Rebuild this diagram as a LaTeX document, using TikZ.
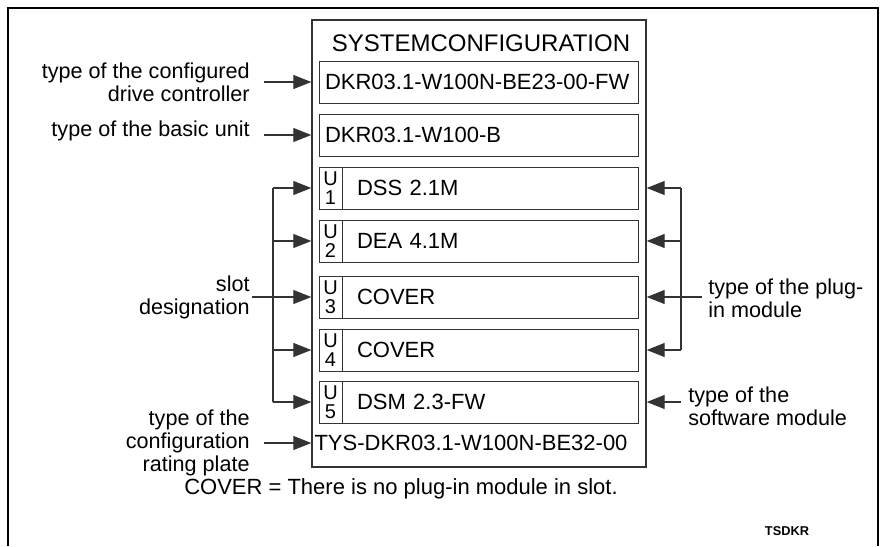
\documentclass[tikz,border=0pt]{standalone}
\usepackage{fontspec}
\setmainfont{Liberation Sans}
\usetikzlibrary{arrows.meta,positioning}
\definecolor{linegray}{HTML}{333333}

\begin{document}
\begin{tikzpicture}[x=0.5pt, y=-0.5pt,
    every node/.style={font=\fontsize{11}{11.5}\selectfont},
    sysbox/.style={rectangle, draw=linegray, line width=0.7pt,
        minimum width=167pt, minimum height=223.5pt},
    modbox/.style={rectangle, draw=linegray, line width=0.5pt, minimum height=21pt,
        inner xsep=3pt, text width=153.5pt, align=left},
    slotbox/.style={modbox, inner xsep=19pt, text width=121.5pt},
    slotno/.style={rectangle, draw=linegray, line width=0.5pt, minimum width=11.5pt,
        minimum height=21pt, inner sep=0pt, align=center, font=\fontsize{10}{9.5}\selectfont},
    lbl/.style={inner sep=0pt, align=right, anchor=east, font=\fontsize{10.8}{11.5}\selectfont},
    rlbl/.style={inner sep=0pt, align=left, anchor=west, font=\fontsize{10.8}{11.5}\selectfont},
    arr/.style={draw=linegray, line width=0.6pt, -{Triangle[length=9pt,width=7pt]}},
    conn/.style={draw=linegray, line width=0.6pt},
]
\useasboundingbox (0,0) rectangle (883,546);

% Frame
\draw[line width=1.3pt] (8,546) -- (8,8) -- (878,8) -- (878,546);

% System configuration box
\node[sysbox] (sys) at (479,243.5) {};
\node[font=\fontsize{12}{14}\selectfont] (title) at (481,43) {SYSTEMCONFIGURATION};

\node[modbox] (cfg) at (478.5,82) {DKR03.1-W100N-BE23-00-FW};
\node[modbox] (basic) at (478.5,135) {DKR03.1-W100-B};

% Slots
\node[slotbox] (u1) at (478.5,188) {DSS 2.1M};
\node[slotbox] (u2) at (478.5,241) {DEA 4.1M};
\node[slotbox] (u3) at (478.5,297) {COVER};
\node[slotbox] (u4) at (478.5,350) {COVER};
\node[slotbox] (u5) at (478.5,402) {DSM 2.3-FW};

\node[slotno, anchor=west] (n1) at (u1.west) {U\\1};
\node[slotno, anchor=west] (n2) at (u2.west) {U\\2};
\node[slotno, anchor=west] (n3) at (u3.west) {U\\3};
\node[slotno, anchor=west] (n4) at (u4.west) {U\\4};
\node[slotno, anchor=west] (n5) at (u5.west) {U\\5};

\node (plate) at (471,443) {TYS-DKR03.1-W100N-BE32-00};

% Labels
\node[lbl] (cfglbl) at (250,82) {type of the configured\\drive controller};
\node[lbl] (basiclbl) at (250,131) {type of the basic unit};
\node[lbl] (slotlbl) at (250,297) {slot\\designation};
\node[lbl] (platelbl) at (250,443) {type of the\\configuration\\rating plate};
\node[rlbl] (pluglbl) at (708,298) {type of the plug-\\in module};
\node[rlbl] (swlbl) at (688,406) {type of the\\software module};

% Connector ends
\coordinate (lstart) at (264,0);
\coordinate (lbrack) at (273,0);
\coordinate (slotstart) at (252,0);
\coordinate (rbrack) at (681,0);
\coordinate (plugstart) at (702,0);

% Left arrows
\draw[arr] (lstart |- cfg) -- (sys.west |- cfg);
\draw[arr] (lstart |- basic) -- (sys.west |- basic);
\draw[arr] (lstart |- plate) -- (sys.west |- plate);

\draw[conn] (lbrack |- u1) -- (lbrack |- u5);
\foreach \s in {u1,u2,u4,u5}
    \draw[arr] (lbrack |- \s) -- (sys.west |- \s);
\draw[arr] (slotstart |- u3) -- (sys.west |- u3);

% Right arrows
\draw[conn] (rbrack |- u1) -- (rbrack |- u4);
\foreach \s in {u1,u2,u3,u4}
    \draw[arr] (rbrack |- \s) -- (sys.east |- \s);
\draw[conn] (rbrack |- u3) -- (plugstart |- u3);
\draw[arr] (rbrack |- u5) -- (sys.east |- u5);

% Notes
\node (note) at (401,489) {COVER = There is no plug-in module in slot.};
\node[font=\fontsize{6.4}{8}\selectfont\bfseries] (tag) at (787,531) {TSDKR};

\end{tikzpicture}
\end{document}
